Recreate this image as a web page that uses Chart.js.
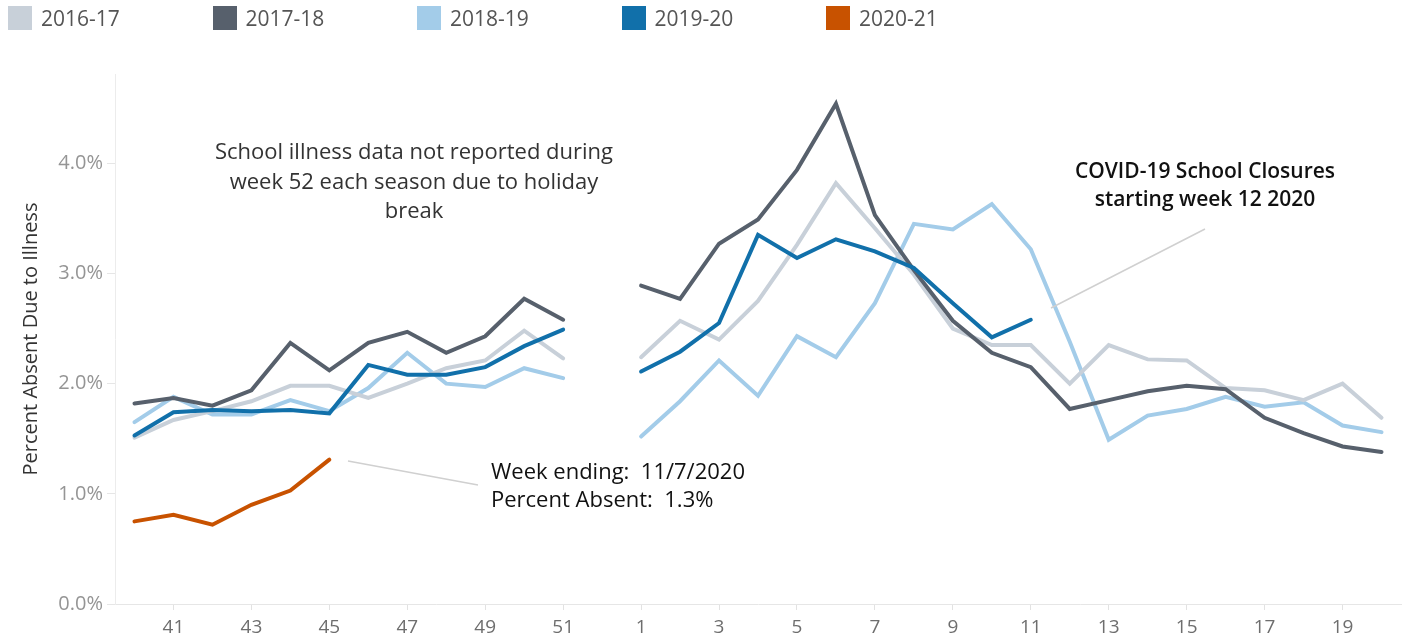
<!DOCTYPE html>
<html>
<head>
<meta charset="utf-8">
<script src="https://cdn.jsdelivr.net/npm/chart.js@4.4.1/dist/chart.umd.min.js"></script>
<style>
  html, body { margin: 0; padding: 0; background: #fff; }
  #wrap { position: relative; width: 1410px; height: 644px; overflow: hidden; font-family: "Open Sans", sans-serif; }
  #c { position: absolute; left: 0; top: 0; }
  .leg { position: absolute; top: 6px; height: 24px; display: flex; align-items: center; font-size: 21px; color: #555; white-space: nowrap; }
  .leg .sw { width: 24px; height: 24px; margin-right: 9px; }
  .note { position: absolute; font-size: 22px; line-height: 29.5px; color: #333; white-space: nowrap; }
</style>
</head>
<body>
<div id="wrap">
  <canvas id="c" width="1410" height="644"></canvas>
  <div id="legend"></div>
  <div class="note" style="left:184px; top:136px; width:460px; text-align:center;">School illness data not reported during<br>week 52 each season due to holiday<br>break</div>
  <div class="note" style="left:1055px; top:156px; width:300px; text-align:center; font-weight:600; color:#111; font-size:21px; line-height:28px;">COVID-19 School Closures<br>starting week 12 2020</div>
  <div class="note" style="left:491px; top:456px; color:#111; line-height:28px;">Week ending:&nbsp; 11/7/2020<br>Percent Absent:&nbsp; 1.3%</div>
</div>
<script>
// Weeks (week 52 kept as a category with no data: holiday break)
const weeks = [40,41,42,43,44,45,46,47,48,49,50,51,52,1,2,3,4,5,6,7,8,9,10,11,12,13,14,15,16,17,18,19,20];
const seasons = ["2016-17","2017-18","2018-19","2019-20","2020-21"];
const seasonColors = ["#c8d0d9","#57606c","#a3cce9","#1170aa","#c85200"];
const yTicks = [0,1,2,3,4];

const s2016 = [1.51,1.67,1.75,1.84,1.98,1.98,1.87,2.00,2.14,2.21,2.48,2.23,null,
               2.24,2.57,2.40,2.75,3.26,3.82,3.41,2.99,2.50,2.35,2.35,2.00,2.35,2.22,2.21,1.96,1.94,1.85,2.00,1.69];
const s2017 = [1.82,1.87,1.80,1.94,2.37,2.12,2.37,2.47,2.28,2.43,2.77,2.58,null,
               2.89,2.77,3.27,3.49,3.94,4.54,3.53,3.03,2.57,2.28,2.15,1.77,1.85,1.93,1.98,1.95,1.69,1.55,1.43,1.38];
const s2018 = [1.65,1.88,1.72,1.72,1.85,1.75,1.96,2.28,2.00,1.97,2.14,2.05,null,
               1.52,1.84,2.21,1.89,2.43,2.24,2.73,3.45,3.40,3.63,3.22,2.38,1.49,1.71,1.77,1.88,1.79,1.83,1.62,1.56];
const s2019 = [1.53,1.74,1.76,1.75,1.76,1.73,2.17,2.08,2.08,2.15,2.34,2.49,null,
               2.11,2.29,2.55,3.35,3.14,3.31,3.20,3.05,2.73,2.42,2.58,null,null,null,null,null,null,null,null,null];
const s2020 = [0.75,0.81,0.72,0.90,1.03,1.31,null,null,null,null,null,null,null,
               null,null,null,null,null,null,null,null,null,null,null,null,null,null,null,null,null,null,null,null];

const seriesData = [s2016, s2017, s2018, s2019, s2020];
const drawOrder = [3, 2, 4, 1, 0]; // lower = drawn on top

// HTML legend
const legendEl = document.getElementById('legend');
seasons.forEach((s, i) => {
  const d = document.createElement('div');
  d.className = 'leg';
  d.style.left = (8 + i * 204.5) + 'px';
  d.innerHTML = '<span class="sw" style="background:' + seasonColors[i] + '"></span>' + s;
  legendEl.appendChild(d);
});

const connectors = {
  id: 'connectors',
  afterDatasetsDraw(chart) {
    const ctx = chart.ctx;
    ctx.save();
    ctx.strokeStyle = '#d0d0d0';
    ctx.lineWidth = 1.5;
    ctx.beginPath();
    ctx.moveTo(1051, 308); ctx.lineTo(1205, 229);
    ctx.moveTo(348, 461); ctx.lineTo(478, 485);
    ctx.stroke();
    ctx.restore();
  }
};

new Chart(document.getElementById('c'), {
  type: 'line',
  data: {
    labels: weeks.map(String),
    datasets: seasons.map((s, i) => ({
      label: s,
      data: seriesData[i],
      borderColor: seasonColors[i],
      backgroundColor: seasonColors[i],
      borderWidth: 4,
      borderCapStyle: 'round',
      borderJoinStyle: 'miter',
      pointRadius: 0,
      pointHoverRadius: 0,
      tension: 0,
      spanGaps: false,
      fill: false,
      order: drawOrder[i]
    }))
  },
  plugins: [connectors],
  options: {
    responsive: false,
    animation: false,
    devicePixelRatio: 1,
    layout: { padding: { top: 74, right: 9, left: 0, bottom: 0 } },
    plugins: { legend: { display: false }, tooltip: { enabled: false } },
    scales: {
      x: {
        type: 'category',
        offset: true,
        afterFit(s) { s.height = 40; },
        grid: {
          offset: false,
          drawOnChartArea: false,
          drawTicks: true,
          tickLength: 6,
          color: (c) => (weeks[c.index] % 2 === 1 ? '#e2e2e2' : 'rgba(0,0,0,0)')
        },
        border: { display: true, color: '#e6e6e6', dash: [3, 3] },
        ticks: {
          autoSkip: false,
          maxRotation: 0,
          padding: 6,
          color: '#6e6e6e',
          font: { family: 'Open Sans', size: 19 },
          callback: (v, i) => (weeks[i] % 2 === 1 ? String(weeks[i]) : '')
        }
      },
      y: {
        min: 0,
        max: 4.81,
        afterFit(s) { s.width = 115; },
        afterBuildTicks(s) { s.ticks = yTicks.map(v => ({ value: v })); },
        grid: {
          drawOnChartArea: false,
          drawTicks: true,
          tickLength: 8,
          color: '#e6e6e6'
        },
        border: { display: true, color: '#ececec' },
        ticks: {
          padding: 4,
          color: '#959595',
          font: { family: 'Open Sans', size: 20 },
          callback: (v) => Number(v).toFixed(1) + '%'
        },
        title: {
          display: true,
          text: 'Percent Absent Due to Illness',
          color: '#333',
          font: { family: 'Open Sans', size: 20 },
          padding: { top: 19, bottom: 0 }
        }
      }
    }
  }
});
</script>
</body>
</html>
